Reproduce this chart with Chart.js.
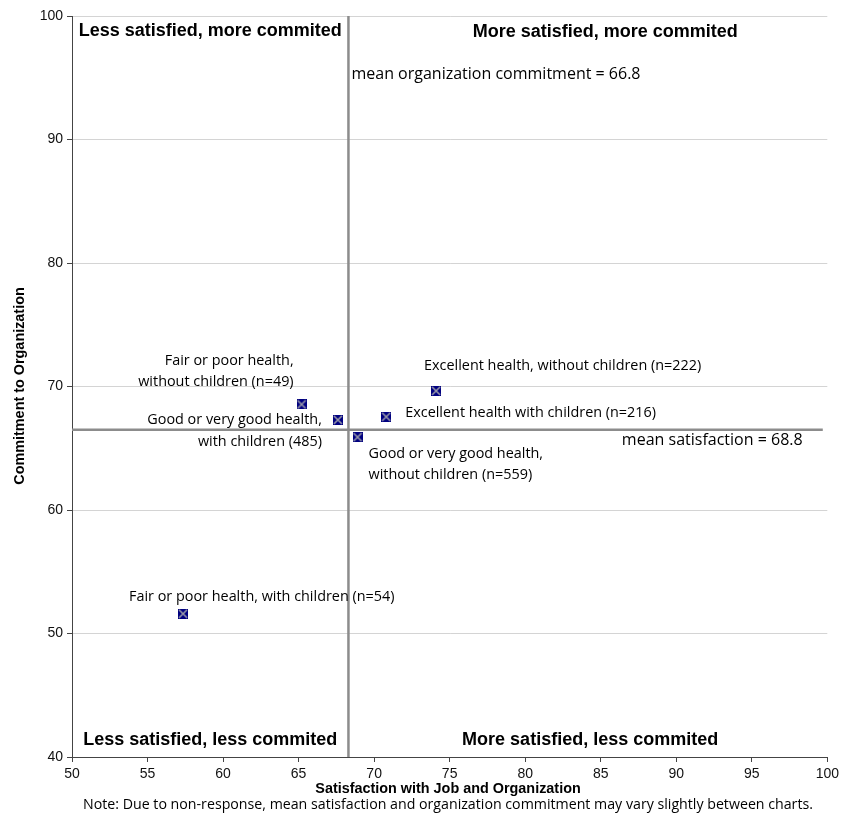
<!DOCTYPE html>
<html>
<head>
<meta charset="utf-8">
<script src="https://cdn.jsdelivr.net/npm/chart.js@4.4.1/dist/chart.umd.min.js"></script>
<style>
  html, body { margin: 0; padding: 0; background: #fff; }
  #wrap { width: 843px; height: 815px; }
</style>
</head>
<body>
<div id="wrap"><canvas id="chart" width="843" height="815"></canvas></div>
<script>
// groups and their values
const groups = [
  ["Fair or poor health,", "without children (n=49)"],
  ["Good or very good health,", "with children (485)"],
  ["Excellent health with children (n=216)"],
  ["Good or very good health,", "without children (n=559)"],
  ["Excellent health, without children (n=222)"],
  ["Fair or poor health, with children (n=54)"],
];
const satisfaction = [65.2, 67.6, 70.8, 68.9, 74.1, 57.35];
const commitment = [68.55, 67.3, 67.55, 65.9, 69.65, 51.6];

// where the mean lines sit on the chart
const meanSatisfaction = 68.3;
const meanCommitment = 66.5;

const xTicks = [50, 55, 60, 65, 70, 75, 80, 85, 90, 95, 100];
const yTicks = [40, 50, 60, 70, 80, 90, 100];

// label placement (pixels from the marker)
const labelStyle = [
  { dx: -8, dy: [-44, -23], align: "right" },
  { dx: -16, dy: [0, 22], align: "right" },
  { dx: 19, dy: [-4], align: "left" },
  { dx: 11, dy: [17, 38], align: "left" },
  { dx: -12, dy: [-25], align: "left" },
  { dx: -54, dy: [-17], align: "left" },
];

const quadrants = [
  { text: "Less satisfied, more commited", x: 59.15, y: 98.8 },
  { text: "More satisfied, more commited", x: 85.3, y: 98.7 },
  { text: "Less satisfied, less commited", x: 59.15, y: 41.4 },
  { text: "More satisfied, less commited", x: 84.3, y: 41.4 },
];

const meanNotes = [
  { text: "mean organization commitment = 66.8", x: 68.5, y: 95.3 },
  { text: "mean satisfaction = 68.8", x: 86.4, y: 65.6 },
];

const bodyFont = "'Open Sans', sans-serif";
const boldFont = "'Liberation Sans', Arial, sans-serif";

// marker: navy square with a grey cross
const marker = document.createElement("canvas");
marker.width = 10;
marker.height = 10;
(() => {
  const m = marker.getContext("2d");
  m.fillStyle = "#000080";
  m.fillRect(0, 0, 10, 10);
  m.strokeStyle = "#9a9aa8";
  m.lineWidth = 1.6;
  m.beginPath();
  m.moveTo(1, 1); m.lineTo(9, 9);
  m.moveTo(9, 1); m.lineTo(1, 9);
  m.stroke();
})();

const textPlugin = {
  id: "texts",
  afterDatasetsDraw(chart) {
    const { ctx, scales } = chart;
    const xs = scales.x, ys = scales.y;
    ctx.save();
    ctx.textBaseline = "middle";

    ctx.fillStyle = "#000";
    ctx.font = "bold 18px " + boldFont;
    ctx.textAlign = "center";
    quadrants.forEach(q => {
      ctx.fillText(q.text, xs.getPixelForValue(q.x), ys.getPixelForValue(q.y));
    });

    ctx.font = "16px " + bodyFont;
    ctx.textAlign = "left";
    meanNotes.forEach(n => {
      ctx.fillText(n.text, xs.getPixelForValue(n.x), ys.getPixelForValue(n.y));
    });

    ctx.font = "14.4px " + bodyFont;
    groups.forEach((lines, i) => {
      const px = xs.getPixelForValue(satisfaction[i]);
      const py = ys.getPixelForValue(commitment[i]);
      const st = labelStyle[i];
      ctx.textAlign = st.align;
      lines.forEach((line, j) => {
        ctx.fillText(line, px + st.dx, py + st.dy[j]);
      });
    });

    // axis titles and note
    ctx.font = "bold 14.4px " + boldFont;
    ctx.textAlign = "center";
    ctx.fillText("Satisfaction with Job and Organization", 448, 789);
    ctx.save();
    ctx.translate(20, 386);
    ctx.rotate(-Math.PI / 2);
    ctx.fillText("Commitment to Organization", 0, 0);
    ctx.restore();

    ctx.font = "14.2px " + bodyFont;
    ctx.fillText("Note: Due to non-response, mean satisfaction and organization commitment may vary slightly between charts.", 448, 805);
    ctx.restore();
  },
};

new Chart(document.getElementById("chart"), {
  type: "scatter",
  data: {
    datasets: [
      {
        type: "line",
        data: [{ x: meanSatisfaction, y: 40 }, { x: meanSatisfaction, y: 100 }],
        borderColor: "#8c8c8c",
        borderWidth: 2.5,
        pointRadius: 0,
        showLine: true,
      },
      {
        type: "line",
        data: [{ x: 50, y: meanCommitment }, { x: 99.7, y: meanCommitment }],
        borderColor: "#8c8c8c",
        borderWidth: 2.5,
        pointRadius: 0,
        showLine: true,
      },
      {
        data: satisfaction.map((v, i) => ({ x: v, y: commitment[i] })),
        pointStyle: marker,
        pointRadius: 5,
      },
    ],
  },
  options: {
    responsive: false,
    animation: false,
    layout: { padding: { top: 16, right: 15, left: 0, bottom: 0 } },
    plugins: { legend: { display: false }, tooltip: { enabled: false } },
    scales: {
      x: {
        type: "linear",
        min: 50,
        max: 100,
        afterBuildTicks: s => { s.ticks = xTicks.map(v => ({ value: v })); },
        afterFit: s => { s.height = 58; },
        grid: { drawOnChartArea: false, tickLength: 5, tickColor: "#444" },
        border: { color: "#444", width: 1 },
        ticks: { color: "#111", padding: 4, font: { family: boldFont, size: 14 }, maxRotation: 0 },
      },
      y: {
        type: "linear",
        min: 40,
        max: 100,
        afterBuildTicks: s => { s.ticks = yTicks.map(v => ({ value: v })); },
        afterFit: s => { s.width = 72; },
        grid: { color: "#d4d4d4", tickLength: 5, tickColor: "#444" },
        border: { color: "#444", width: 1 },
        ticks: { color: "#111", padding: 4, font: { family: boldFont, size: 14 } },
      },
    },
  },
  plugins: [textPlugin],
});
</script>
</body>
</html>
